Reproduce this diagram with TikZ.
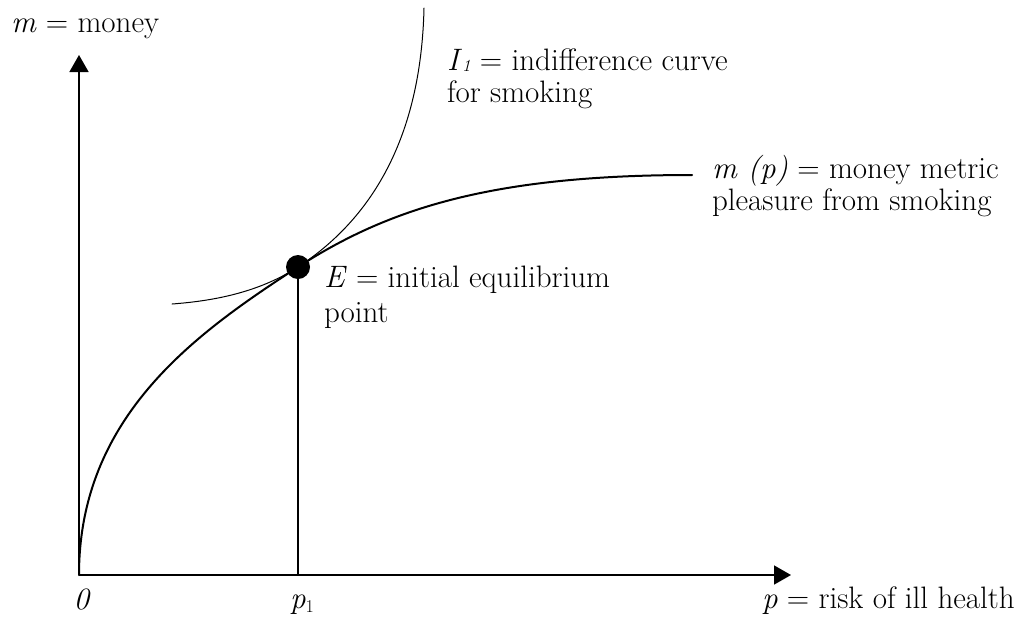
\documentclass[tikz,border=0pt]{standalone}
\usetikzlibrary{arrows.meta}
\begin{document}
\begin{tikzpicture}[x=1pt,y=-1pt,
  every node/.style={inner sep=0pt, outer sep=0pt, font=\fontsize{31}{33}\selectfont},
  axis/.style={line width=1.6pt, -{Triangle[length=17pt,width=19pt]}},
  thick curve/.style={line width=2pt, line cap=round},
  thin curve/.style={line width=1pt, line cap=round},
  lbl/.style={anchor=base west}]
\useasboundingbox (0,0) rectangle (1025,619);
\coordinate (O) at (79,575);
\coordinate (Ytop) at (79,55);
\coordinate (Xend) at (791,575);
\coordinate (E) at (298,267);
\coordinate (P1) at (298,575);
\coordinate (Mend) at (692,175);
\coordinate (Istart) at (172,304);
\coordinate (Iend) at (424,8);
\draw[axis] (O) -- (Ytop);
\draw[axis] (O) -- (Xend);
\draw[line width=1.6pt] (P1) -- (E);
% m(p) curve
\draw[thick curve] (O) .. controls (79,415) and (198,332) .. (E)
  .. controls (388.5,208.5) and (492,175) .. (Mend);
% indifference curve
\draw[thin curve] (Istart) .. controls (212,301) and (258,293) .. (E)
  .. controls (370,220) and (421,140) .. (Iend);
\fill (E) circle (12);
% labels
\node[lbl] (ml) at (11,32) {\textit{m} = money};
\node[lbl, text depth=0pt] (il1) at (447,70) {\textit{I}\smash{\raisebox{-0.12ex}{\fontsize{17}{17}\selectfont\textit{1}}} = indifference curve};
\node[lbl] (il2) at (447,102) {for smoking};
\node[lbl] (mp1) at (712,178) {\textit{m (p)} = money metric};
\node[lbl] (mp2) at (712,210) {pleasure from smoking};
\node[lbl] (e1) at (324,287) {\textit{E} = initial equilibrium};
\node[lbl] (e2) at (324,322) {point};
\node[lbl] (pl) at (762,608) {\textit{p} = risk of ill health};
\node[anchor=base] (zero) at (82,609) {\textit{0}};
\node[lbl] (p1l) at (290,608) {\textit{p}\raisebox{-0.35ex}{\fontsize{18}{18}\selectfont 1}};
\end{tikzpicture}
\end{document}
